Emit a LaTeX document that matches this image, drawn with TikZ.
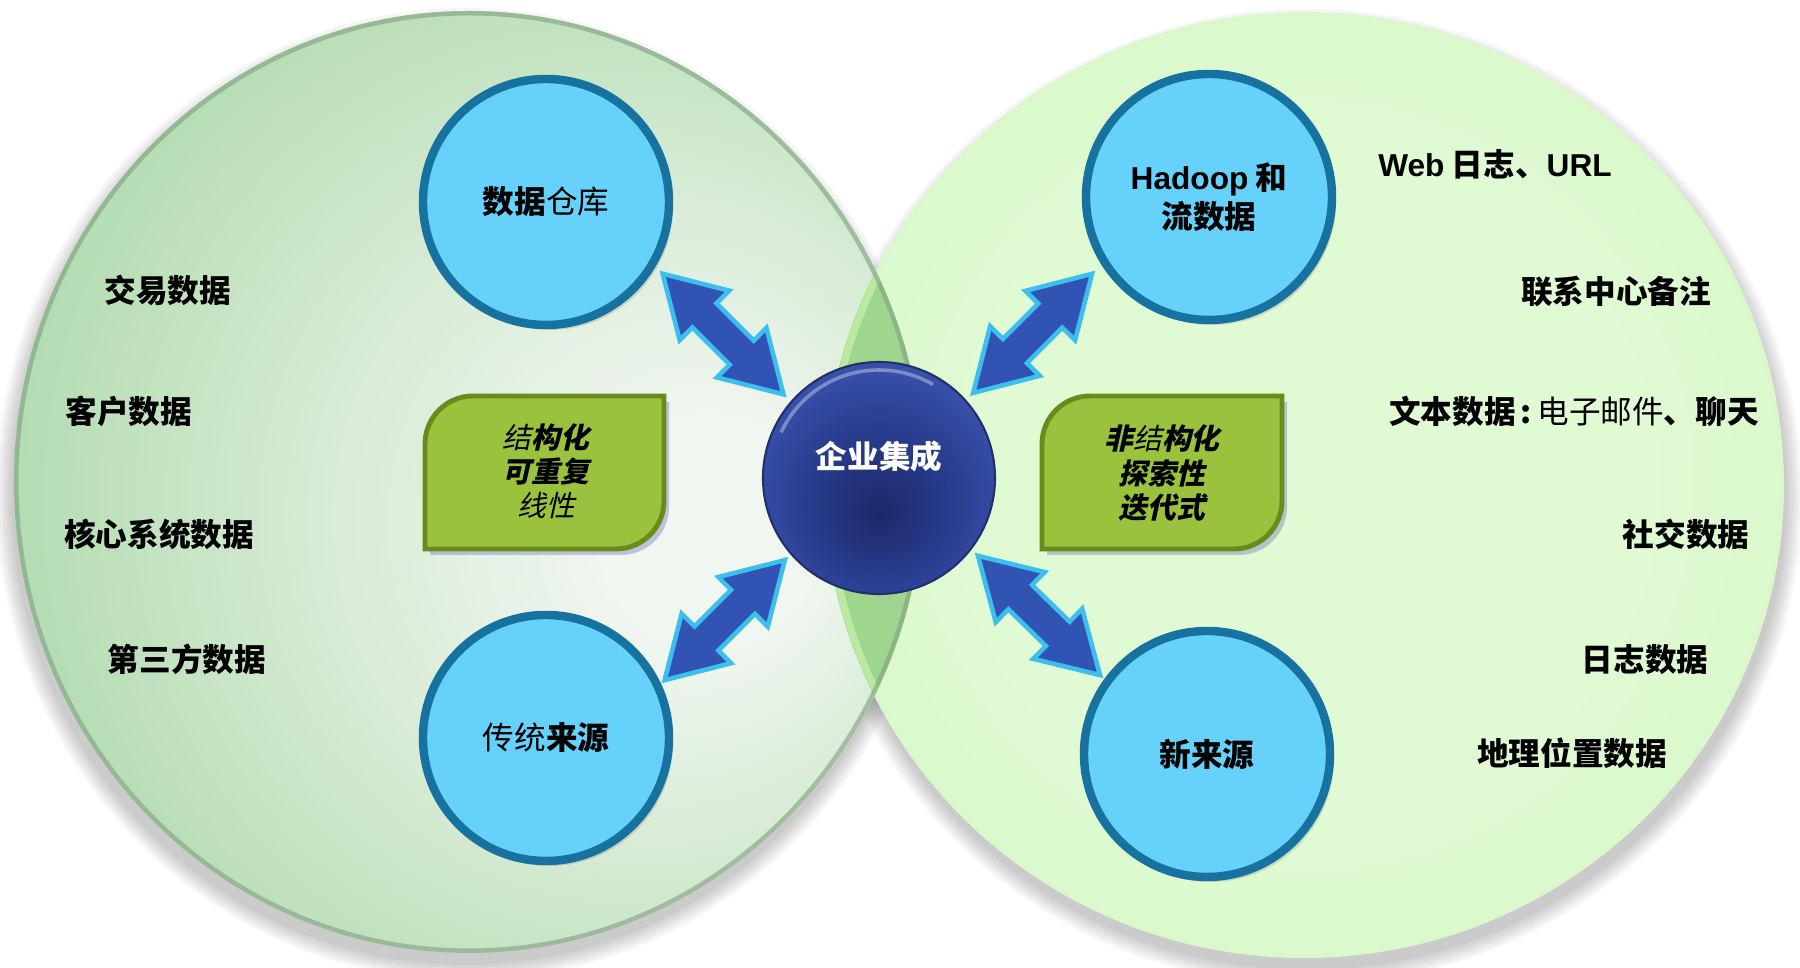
\documentclass[tikz,border=0pt]{standalone}
\usepackage{fontspec}
\setmainfont{Noto Sans CJK SC}
\newfontfamily\lat{Liberation Sans}
\newfontfamily\cjkit{Noto Sans CJK SC}[FakeSlant=0.22]
\usetikzlibrary{calc,
                shadows
            }

\definecolor{skyfill}{HTML}{66D2FB}
\definecolor{skyline}{HTML}{17729F}
\definecolor{boxgreen}{HTML}{9BC23C}
\definecolor{boxedge}{HTML}{6A8A1C}
\definecolor{arrowfill}{HTML}{3153B3}
\definecolor{arrowedge}{HTML}{3DBFEE}
\definecolor{hubA}{HTML}{1B2A68}
\definecolor{hubB}{HTML}{2B3F93}
\definecolor{hubC}{HTML}{4762C2}
\definecolor{hubD}{HTML}{5B78D2}
\definecolor{hubrim}{HTML}{22306A}
\definecolor{leftA}{HTML}{F0F6F0}
\definecolor{leftB}{HTML}{D6EBD4}
\definecolor{leftC}{HTML}{B6DDB4}
\definecolor{leftD}{HTML}{A2D5A2}
\definecolor{leftE}{HTML}{B0DBAE}
\definecolor{leftrim}{HTML}{7F9F7F}
\definecolor{rightA}{HTML}{E0FAD4}
\definecolor{rightB}{HTML}{D0F6BE}
\definecolor{rightC}{HTML}{B4EC96}
\definecolor{rightE}{HTML}{C2F0A8}
\definecolor{rightrim}{HTML}{8CBF7A}
\definecolor{lens}{HTML}{94D084}

\pgfdeclareradialshading{leftdisc}{\pgfpoint{15bp}{-3bp}}{%
  color(0bp)=(leftA); color(6bp)=(leftA); color(18bp)=(leftB); color(30bp)=(leftC);
  color(45bp)=(leftD); color(47.8bp)=(leftE); color(49.3bp)=(leftrim); color(50bp)=(leftrim)}
\pgfdeclareradialshading{rightdisc}{\pgfpoint{0bp}{0bp}}{%
  color(0bp)=(rightA); color(18bp)=(rightA); color(36bp)=(rightB);
  color(46bp)=(rightC); color(48bp)=(rightE); color(49.4bp)=(rightrim); color(50bp)=(rightrim)}
\pgfdeclareradialshading{hubball}{\pgfpoint{0bp}{-8bp}}{%
  color(0bp)=(hubA); color(18bp)=(hubB); color(38bp)=(hubC);
  color(47bp)=(hubD); color(50bp)=(hubrim)}

\tikzset{
  src/.style={circle, draw=skyline, line width=2.4pt, fill=skyfill,
              minimum size=2.46cm, align=center,
              font=\fontsize{9pt}{11pt}\selectfont\bfseries,
              drop shadow={opacity=0.25, shadow xshift=0.04cm, shadow yshift=-0.05cm}},
  hub/.style={circle, shading=hubball, draw=hubrim, line width=0.6pt,
              minimum size=2.32cm},
  item/.style={font=\fontsize{9pt}{11pt}\selectfont\bfseries},
  gbox/.style={fill=boxgreen, draw=boxedge, line width=1.4pt,
               drop shadow={opacity=0.3, fill=blue!40!gray, shadow xshift=0.05cm, shadow yshift=-0.06cm}},
  gtext/.style={align=center, font=\fontsize{8.2pt}{9.7pt}\selectfont\cjkit},
  bia/.style={fill=arrowfill, draw=arrowedge, line width=1.3pt, line join=miter}
}

% double headed block arrow between two points
\newcommand{\biarrow}[2]{%
  \coordinate (h1) at ($(#1)!0.59cm!(#2)$);
  \coordinate (h2) at ($(#2)!0.59cm!(#1)$);
  \path[bia] (#1) -- ($(h1)!0.35cm!90:(#2)$) -- ($(h1)!0.17cm!90:(#2)$)
    -- ($(h2)!0.17cm!-90:(#1)$) -- ($(h2)!0.35cm!-90:(#1)$) -- (#2)
    -- ($(h2)!0.35cm!90:(#1)$) -- ($(h2)!0.17cm!90:(#1)$)
    -- ($(h1)!0.17cm!-90:(#2)$) -- ($(h1)!0.35cm!-90:(#2)$) -- cycle;}

\begin{document}
\begin{tikzpicture}
            \useasboundingbox (0,0) rectangle (18,9.68);
            \fill[white] (0,0) rectangle (18,9.68);

            % shadows of the two big discs
            \foreach \g in {0.00,0.03,...,0.15} {
                \fill[black, opacity=0.035] (4.66,4.74) ellipse [x radius=4.55+\g, y radius=4.71+\g];
                \fill[black, opacity=0.035] (13.07,4.71) ellipse [x radius=4.80+\g, y radius=4.73+\g];
            }
            \shade[shading=leftdisc] (4.69,4.86) ellipse [x radius=4.55, y radius=4.71];
            \shade[shading=rightdisc] (13.04,4.83) ellipse [x radius=4.80, y radius=4.73];
            % overlap of the discs
            \begin{scope}
                \clip (4.69,4.86) ellipse [x radius=4.55, y radius=4.71];
                \fill[lens, opacity=0.85] (13.04,4.83) ellipse [x radius=4.80, y radius=4.73];
                \draw[rightE, line width=2pt, opacity=0.8] (13.04,4.83) ellipse [x radius=4.76, y radius=4.69];
                \draw[leftrim, line width=2pt, opacity=0.6] (4.69,4.86) ellipse [x radius=4.54, y radius=4.70];
            \end{scope}

            % left side data
            \node[item] (jy) at (1.68, 6.78) {交易数据};
            \node[item] (kh) at (1.29, 5.57) {客户数据};
            \node[item] (hx) at (1.59, 4.34) {核心系统数据};
            \node[item] (ds) at (1.87, 3.09) {第三方数据};

            % right side data
            \node[item] (web) at (14.95, 8.04) {{\lat Web} 日志、{\lat URL}};
            \node[item] (lx) at (16.16, 6.76) {联系中心备注};
            \node[item] (wb) at (15.74, 5.57) {文本数据\,:\,{\mdseries 电子邮件}、聊天};
            \node[item] (sj) at (16.86, 4.34) {社交数据};
            \node[item] (rz) at (16.45, 3.08) {日志数据};
            \node[item] (dl) at (15.72, 2.15) {地理位置数据};

            % green boxes
            \draw[gbox] (4.25,4.19) -- (4.25,5.24) arc[start angle=180, end angle=90, radius=0.48]
                -- (6.64,5.72) -- (6.64,4.67) arc[start angle=0, end angle=-90, radius=0.48] -- cycle;
            \draw[gbox] (10.42,4.19) -- (10.42,5.24) arc[start angle=180, end angle=90, radius=0.48]
                -- (12.82,5.72) -- (12.82,4.67) arc[start angle=0, end angle=-90, radius=0.48] -- cycle;
            \node[gtext] (jg) at (5.46, 4.97) {结\textbf{构化}\\ \textbf{可重复}\\ 线性};
            \node[gtext] (fjg) at (11.62, 4.95) {\textbf{非}结\textbf{构化}\\ \textbf{探索性}\\ \textbf{迭代式}};

            % sources and hub
            \node[src] (dw) at (5.46, 7.66) {数据{\mdseries 仓库}};
            \node[src] (hd) at (12.09, 7.71) {{\lat Hadoop} 和\\ 流数据};
            \node[src] (ts) at (5.46, 2.30) {{\mdseries 传统}来源};
            \node[src] (xs) at (12.07, 2.14) {新来源};
            \node[hub] (ec) at (8.79, 4.90) {};
            \draw[white, opacity=0.35, line width=1pt] ($(ec.center)+(155:1.08)$) arc[start angle=155, end angle=60, radius=1.08];
            \node[item, white] (ect) at ([yshift=0.22cm]ec.center) {企业集成};

            % arrows
            \coordinate (a1) at ($(dw.center)+(-31.6:1.37)$);
            \coordinate (b1) at ($(ec.center)+(138.8:1.27)$);
            \coordinate (a2) at ($(hd.center)+(213.3:1.40)$);
            \coordinate (b2) at ($(ec.center)+(42.1:1.27)$);
            \coordinate (a3) at ($(ts.center)+(26:1.32)$);
            \coordinate (b3) at ($(ec.center)+(221.1:1.25)$);
            \coordinate (a4) at ($(xs.center)+(143.6:1.33)$);
            \coordinate (b4) at ($(ec.center)+(-38.2:1.26)$);
            \biarrow{a1}{b1}
            \biarrow{a2}{b2}
            \biarrow{a3}{b3}
            \biarrow{a4}{b4}
        \end{tikzpicture}
\end{document}
